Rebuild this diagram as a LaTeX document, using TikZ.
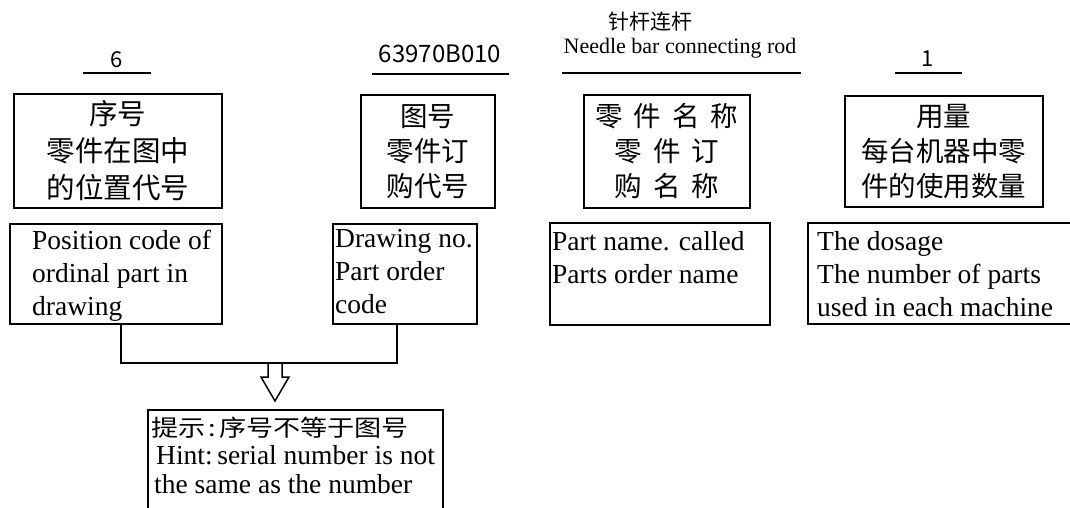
\documentclass[tikz,border=0pt]{standalone}
\usepackage{fontspec}
\setmainfont{Liberation Serif}
\newfontfamily\cjk{Noto Sans CJK SC}
\newfontfamily\cjkwide[FakeStretch=1.18]{Noto Sans CJK SC}
\begin{document}
\begin{tikzpicture}[x=1pt,y=-1pt,
  box/.style={draw, line width=1.8pt, inner sep=0pt, anchor=north west},
  cnbox/.style={box, align=center, font=\cjk\fontsize{27.5}{35}\selectfont},
  en/.style={align=left, inner sep=0pt, anchor=north west, font=\fontsize{27.5}{33}\selectfont},
  rulel/.style={line width=1.8pt},
  conn/.style={line width=1.8pt},
  hollow/.style={line width=1.5pt, line join=miter},
  num/.style={inner sep=0pt, font=\cjk\fontsize{22}{22}\selectfont}
]
\useasboundingbox (0,0) rectangle (1070,508);

% top labels and rules
\node[num] (n1) at (117,60) {6};
\draw[rulel] (83,73) -- (151,73);
\node[num, font=\cjk\fontsize{24}{24}\selectfont] (n2) at (440,54) {63970B010};
\draw[rulel] (372,74) -- (509,74);
\node[inner sep=0pt, font=\cjk\fontsize{21}{21}\selectfont] (n3a) at (650,22) {针杆连杆};
\node[inner sep=0pt, anchor=base, font=\fontsize{22}{22}\selectfont] (n3b) at (680,54) {Needle bar connecting rod};
\draw[rulel] (562,73) -- (801,73);
\node[num] (n4) at (928,59) {1};
\draw[rulel] (895,73) -- (962,73);

% upper boxes
\node[cnbox, font=\cjk\fontsize{28.5}{37}\selectfont, minimum width=208pt, minimum height=114pt] (b1) at (13,93) {序号\\零件在图中\\的位置代号};
\node[cnbox, minimum width=134pt, minimum height=113pt] (b2) at (360,94) {图号\\零件订\\购代号};
\node[cnbox, minimum width=166pt, minimum height=113pt] (b3) at (583,94) {零\hspace{11pt}件\hspace{11pt}名\hspace{11pt}称\\零\hspace{11pt}件\hspace{11pt}订\\购\hspace{11pt}名\hspace{11pt}称};
\node[cnbox, minimum width=198pt, minimum height=111pt] (b4) at (844,95) {用量\\每台机器中零\\件的使用数量};

% lower boxes
\node[box, minimum width=212pt, minimum height=100pt] (b5) at (9,223) {};
\node[box, minimum width=144pt, minimum height=100pt] (b6) at (332,223) {};
\node[box, minimum width=220pt, minimum height=102pt] (b7) at (549,222) {};
\node[box, minimum width=270pt, minimum height=101pt] (b8) at (807,222) {};

\node[en] (t5) at (32,230) {Position code of\\ordinal part in\\drawing};
\node[en] (t6) at (335,229) {Drawing no.\\Part order\\code};
\node[en] (t7) at (552,231) {Part name. called\\Parts order name};
\node[en] (t8) at (817,231) {The dosage\\The number of parts\\used in each machine};

% connector and hollow arrow
\coordinate (j) at (275,363);
\coordinate (tip) at (275,401);
\draw[conn] ([xshift=5pt]b5.south) |- (j) -| ([xshift=-8pt]b6.south);
\draw[hollow] (j) ++(-7,0) -- ++(0,14) -- ++(-7,0) -- (tip) -- ++(14,-24) -- ++(-7,0) -- ++(0,-14);

% hint box
\node[box, minimum width=295pt, minimum height=115pt] (h) at (147,409) {};
\node[anchor=west, inner sep=0pt, font=\cjkwide\fontsize{23}{23}\selectfont] (h1) at (151,428) {提示\hspace{3pt}:\hspace{3pt}序号不等于图号};
\node[en, font=\fontsize{27.5}{29}\selectfont] (h2) at (154,445) {\hspace{2pt}Hint:\,serial number is not\\the same as the number};
\end{tikzpicture}
\end{document}
